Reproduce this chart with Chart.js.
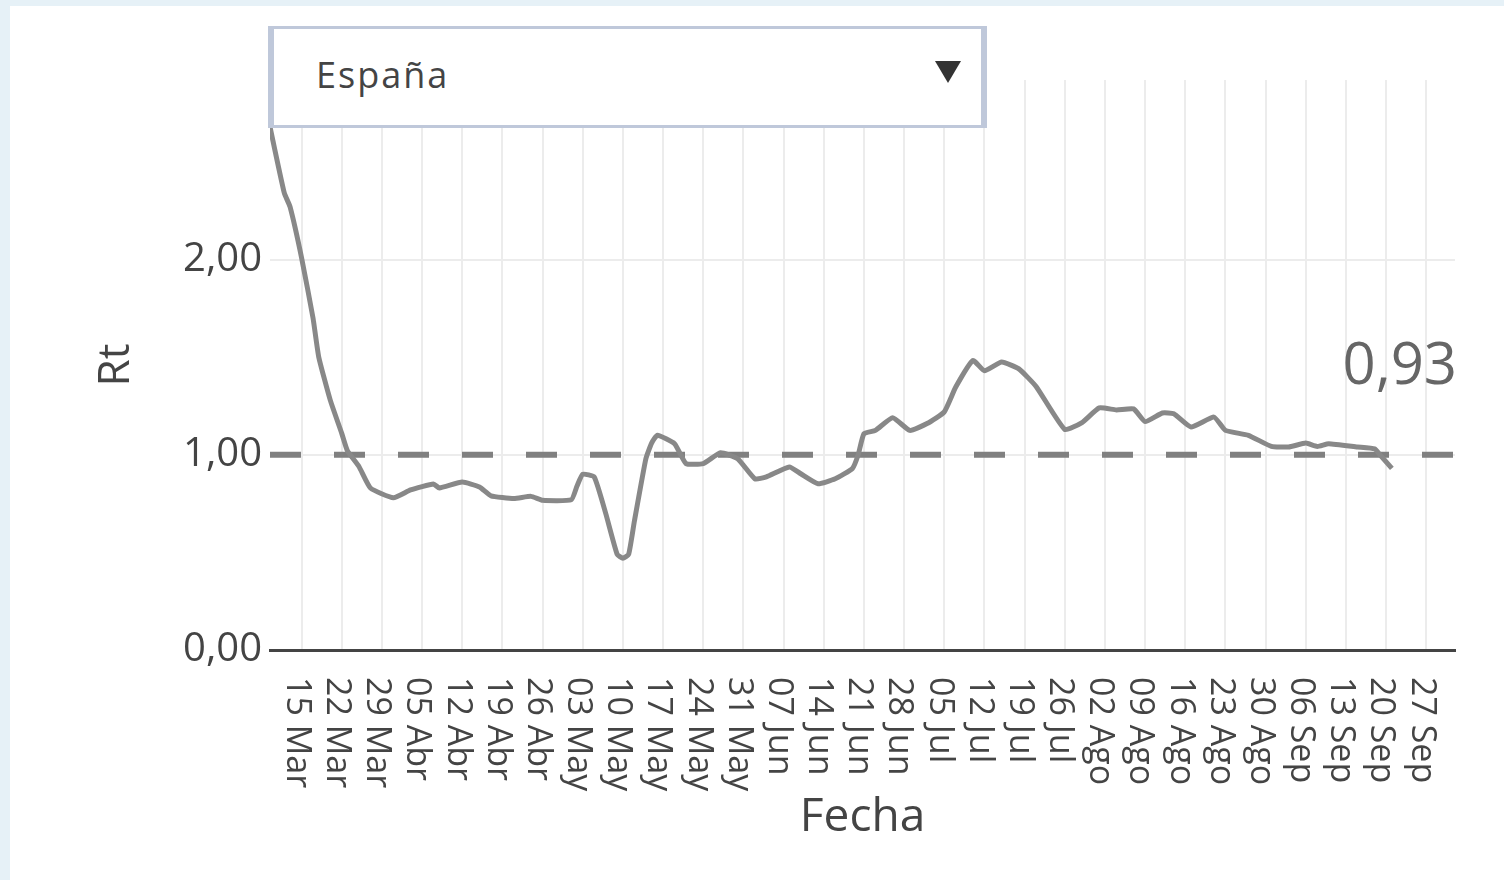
<!DOCTYPE html>
<html>
<head>
<meta charset="utf-8">
<script src="https://cdn.jsdelivr.net/npm/chart.js@4"></script>
<style>
  html, body { margin: 0; padding: 0; }
  body { width: 1504px; height: 880px; background: #e6f1f7; position: relative; overflow: hidden; font-family: "Open Sans", sans-serif; }
  .panel { position: absolute; left: 10px; top: 6px; right: 0; bottom: 0; background: #fff; }
  canvas { position: absolute; left: 0; top: 0; }
  .dropdown { position: absolute; left: 268px; top: 26px; width: 707px; height: 96px; background: #fff;
    border: 3px solid #bfc8da; border-left-width: 6px; border-right-width: 6px; }
  .dropdown span { position: absolute; left: 42px; top: 21px; font-size: 36px; letter-spacing: 2px; color: #444; }
  .dropdown i { position: absolute; right: 20px; top: 32px; width: 0; height: 0;
    border-left: 13px solid transparent; border-right: 13px solid transparent; border-top: 22px solid #333; }
</style>
</head>
<body>
<div class="panel"></div>
<canvas id="rtChart" width="1504" height="880"></canvas>
<div class="dropdown"><span>España</span><i></i></div>
<script>
document.addEventListener('DOMContentLoaded', function () {
    // Fechas y valores de Rt
    const fechas = [
        '2020-03-09', '2020-03-10', '2020-03-12', '2020-03-13', '2020-03-15', '2020-03-17', '2020-03-18',
        '2020-03-20', '2020-03-22', '2020-03-23', '2020-03-25', '2020-03-27', '2020-03-31', '2020-04-03',
        '2020-04-07', '2020-04-08', '2020-04-12', '2020-04-15', '2020-04-17', '2020-04-21', '2020-04-24',
        '2020-04-26', '2020-05-01', '2020-05-02', '2020-05-03', '2020-05-05', '2020-05-07', '2020-05-09',
        '2020-05-10', '2020-05-11', '2020-05-12', '2020-05-14', '2020-05-15', '2020-05-16', '2020-05-19',
        '2020-05-21', '2020-05-24', '2020-05-27', '2020-05-30', '2020-06-02', '2020-06-04', '2020-06-08',
        '2020-06-10', '2020-06-13', '2020-06-16', '2020-06-19', '2020-06-20', '2020-06-21', '2020-06-23',
        '2020-06-26', '2020-06-29', '2020-07-02', '2020-07-05', '2020-07-07', '2020-07-10', '2020-07-12',
        '2020-07-15', '2020-07-18', '2020-07-21', '2020-07-26', '2020-07-29', '2020-08-01', '2020-08-04',
        '2020-08-07', '2020-08-09', '2020-08-12', '2020-08-14', '2020-08-17', '2020-08-21', '2020-08-23',
        '2020-08-27', '2020-08-31', '2020-09-03', '2020-09-06', '2020-09-08', '2020-09-10', '2020-09-15',
        '2020-09-18', '2020-09-19', '2020-09-21'
    ];
    const rt = [
        2.75, 2.61, 2.34, 2.27, 2.01, 1.70, 1.50,
        1.28, 1.11, 1.02, 0.94, 0.83, 0.78, 0.82,
        0.85, 0.83, 0.86, 0.835, 0.79, 0.776, 0.787,
        0.767, 0.77, 0.84, 0.90, 0.886, 0.70, 0.49,
        0.47, 0.49, 0.66, 0.98, 1.06, 1.10, 1.057,
        0.955, 0.955, 1.01, 0.98, 0.877, 0.887, 0.938,
        0.903, 0.852, 0.877, 0.93, 1.00, 1.108, 1.125,
        1.19, 1.125, 1.16, 1.22, 1.347, 1.483, 1.43,
        1.475, 1.44, 1.35, 1.13, 1.165, 1.24, 1.23,
        1.235, 1.17, 1.214, 1.21, 1.142, 1.193, 1.125,
        1.10, 1.043, 1.04, 1.06, 1.043, 1.057, 1.04,
        1.03, 0.997, 0.93
    ];
    const ticksFecha = [
        '15 Mar', '22 Mar', '29 Mar', '05 Abr', '12 Abr', '19 Abr', '26 Abr', '03 May', '10 May', '17 May',
        '24 May', '31 May', '07 Jun', '14 Jun', '21 Jun', '28 Jun', '05 Jul', '12 Jul', '19 Jul', '26 Jul',
        '02 Ago', '09 Ago', '16 Ago', '23 Ago', '30 Ago', '06 Sep', '13 Sep', '20 Sep', '27 Sep'
    ];
    const ticksRt = [0, 1, 2];
    const umbral = 1;

    const origen = Date.parse('2020-03-15');
    const dia = f => (Date.parse(f) - origen) / 86400000;
    const fmt = v => v.toFixed(2).replace('.', ',');
    const FONT = '"Open Sans", sans-serif';

    // linea de referencia Rt = 1, etiquetas de fecha giradas y valor final
    const extras = {
        id: 'extras',
        beforeDatasetsDraw(chart) {
            const ctx = chart.ctx, a = chart.chartArea;
            const y = chart.scales.y.getPixelForValue(umbral);
            ctx.save();
            ctx.strokeStyle = '#808080';
            ctx.lineWidth = 6;
            ctx.setLineDash([31, 33]);
            ctx.beginPath();
            ctx.moveTo(a.left, y);
            ctx.lineTo(a.right, y);
            ctx.stroke();
            ctx.restore();
        },
        afterDraw(chart) {
            const ctx = chart.ctx, a = chart.chartArea;
            const xs = chart.scales.x, ys = chart.scales.y;
            ctx.save();
            ctx.fillStyle = '#444';
            ctx.font = '34px ' + FONT;
            ctx.textAlign = 'left';
            ctx.textBaseline = 'middle';
            xs.ticks.forEach((t, i) => {
                ctx.save();
                ctx.translate(xs.getPixelForValue(t.value) - 5, a.bottom + 27);
                ctx.rotate(Math.PI / 2);
                ctx.fillText(ticksFecha[i], 0, 0);
                ctx.restore();
            });
            const ultimo = rt[rt.length - 1];
            ctx.fillStyle = '#666';
            ctx.font = '58px ' + FONT;
            ctx.textAlign = 'right';
            ctx.textBaseline = 'alphabetic';
            ctx.fillText(fmt(ultimo), a.right + 2, ys.getPixelForValue(ultimo) - 84);
            ctx.restore();
        }
    };

    const rtCtx = document.getElementById('rtChart').getContext('2d');
    new Chart(rtCtx, {
        type: 'line',
        data: {
            datasets: [{
                label: 'Rt',
                data: fechas.map((f, i) => ({ x: dia(f), y: rt[i] })),
                borderColor: '#888888',
                borderWidth: 5,
                pointRadius: 0,
                tension: 0.15,
                fill: false
            }]
        },
        options: {
            responsive: false,
            animation: false,
            layout: { padding: { left: 0, top: 80, right: 49, bottom: 0 } },
            plugins: { legend: { display: false }, tooltip: { enabled: false } },
            scales: {
                x: {
                    type: 'linear',
                    min: -5.5,
                    max: 201,
                    afterBuildTicks: s => { s.ticks = ticksFecha.map((l, i) => ({ value: i * 7 })); },
                    afterFit: s => { s.height = 230; },
                    ticks: { display: false },
                    grid: { color: '#ececec', lineWidth: 2, drawTicks: false },
                    border: { color: '#444', width: 3 },
                    title: { display: true, text: 'Fecha', color: '#444', font: { family: FONT, size: 46 }, padding: { top: 0, bottom: 35 } }
                },
                y: {
                    min: 0,
                    max: 2.92,
                    afterBuildTicks: s => { s.ticks = ticksRt.map(v => ({ value: v })); },
                    afterFit: s => { s.width = 270; },
                    ticks: { color: '#444', font: { family: FONT, size: 40 }, padding: 8, callback: v => fmt(v) },
                    grid: { color: '#ececec', lineWidth: 2, drawTicks: false },
                    border: { display: false },
                    title: { display: true, text: 'Rt', color: '#444', font: { family: FONT, size: 44 }, padding: { top: 90, bottom: 0 } }
                }
            }
        },
        plugins: [extras]
    });
});
</script>
</body>
</html>
